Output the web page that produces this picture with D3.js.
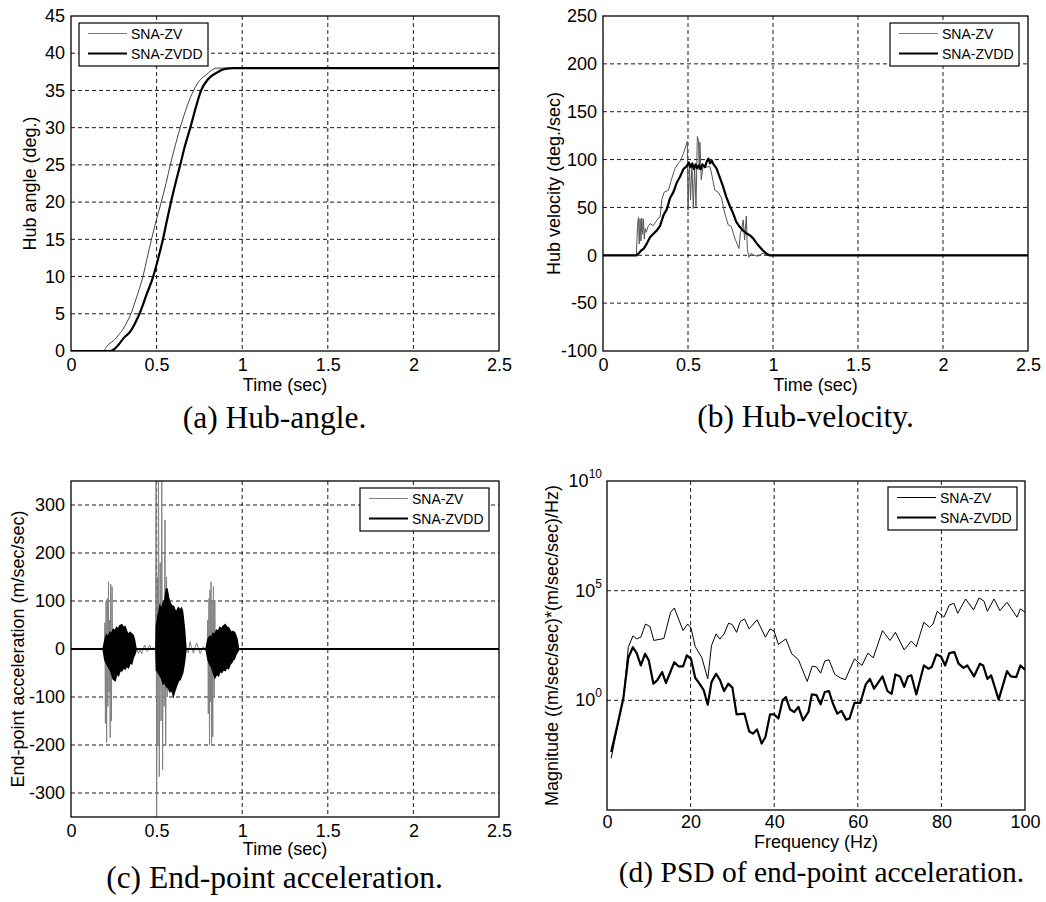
<!DOCTYPE html>
<html lang="en">
<head>
    <meta charset="UTF-8">
    <title>SNA-ZV / SNA-ZVDD responses</title>
    <script src="https://cdn.jsdelivr.net/npm/d3@7"></script>
    <style>
        body { margin: 0; background: #fff; }
        svg { display: block; }
    </style>
</head>
<body>
<script>
    // ---------------- data ----------------
    let seriesNames = ['SNA-ZV', 'SNA-ZVDD'];

    // (a) hub angle, [time s, deg]
    let hubAngleZV = [[0, 0], [0.19, 0], [0.205, 0.5], [0.22, 0.9], [0.25, 1.4], [0.28, 2.2], [0.30, 2.8],
        [0.33, 4], [0.35, 5], [0.38, 7], [0.42, 10], [0.445, 12.5], [0.47, 15], [0.50, 17.7], [0.527, 20],
        [0.555, 22.5], [0.58, 25], [0.61, 27.7], [0.638, 30], [0.68, 33], [0.716, 35], [0.75, 36.3],
        [0.784, 37], [0.82, 37.7], [0.85, 38], [2.5, 38]];
    let hubAngleZVDD = [[0, 0], [0.23, 0], [0.25, 0.2], [0.28, 0.9], [0.31, 1.8], [0.346, 2.6], [0.38, 4],
        [0.40, 5], [0.44, 7.5], [0.48, 10], [0.51, 12.5], [0.537, 15], [0.56, 17.5], [0.584, 20], [0.61, 22.5],
        [0.638, 25], [0.665, 27.5], [0.697, 30], [0.73, 32.8], [0.76, 35], [0.80, 36.5], [0.852, 37.4],
        [0.90, 37.9], [0.95, 38], [2.5, 38]];

    // (b) hub velocity, [time s, deg/s]
    let hubVelZV = [[0, 0], [0.196, 0], [0.200, 18], [0.205, 35], [0.209, 40], [0.213, 12], [0.218, 38],
        [0.223, 15], [0.228, 39], [0.233, 22], [0.238, 38], [0.243, 17], [0.248, 28], [0.254, 24], [0.265, 30],
        [0.278, 33], [0.295, 31], [0.307, 34], [0.326, 39], [0.336, 40], [0.346, 58], [0.360, 66], [0.385, 68],
        [0.404, 80], [0.424, 91], [0.443, 96], [0.457, 99], [0.476, 108], [0.496, 119], [0.500, 47], [0.508, 96],
        [0.515, 58], [0.523, 96], [0.531, 49], [0.539, 93], [0.547, 51], [0.555, 124], [0.562, 120], [0.566, 89],
        [0.570, 118], [0.578, 79], [0.59, 95], [0.61, 92], [0.628, 93], [0.638, 86], [0.658, 68], [0.677, 66],
        [0.697, 60], [0.716, 44], [0.736, 32], [0.755, 30], [0.775, 18], [0.800, 7], [0.808, 23], [0.815, 27],
        [0.825, 37], [0.833, 16], [0.843, 41], [0.849, 7], [0.858, -2], [0.87, 2], [0.89, 0], [0.91, -1],
        [0.94, 2], [0.98, 0], [2.5, 0]];
    let hubVelZVDD = [[0, 0], [0.196, 0], [0.21, 2], [0.225, 5], [0.24, 7], [0.26, 13], [0.278, 19], [0.30, 23],
        [0.317, 26], [0.336, 31], [0.356, 42], [0.375, 48], [0.395, 60], [0.414, 66], [0.434, 76], [0.453, 82],
        [0.473, 90], [0.492, 93], [0.505, 97], [0.515, 92], [0.525, 96], [0.535, 90], [0.545, 95], [0.555, 91],
        [0.565, 94], [0.575, 90], [0.585, 95], [0.60, 92], [0.61, 98], [0.62, 101], [0.63, 96], [0.64, 99],
        [0.65, 95], [0.667, 91], [0.686, 82], [0.706, 72], [0.725, 61], [0.745, 52], [0.765, 44], [0.784, 35],
        [0.803, 30], [0.823, 26], [0.843, 23], [0.863, 21], [0.882, 18], [0.902, 13], [0.921, 9], [0.941, 5],
        [0.96, 2], [0.979, 0], [2.5, 0]];

    // (c) end-point acceleration, SNA-ZV peaks [time s, m/s^2]
    let accZV = [[0, 0], [0.195, 0], [0.198, 55], [0.201, -155], [0.205, 100], [0.208, -195], [0.212, 105],
        [0.215, -120], [0.219, 140], [0.222, -90], [0.225, 60], [0.229, -185], [0.232, 135], [0.236, -150],
        [0.240, 130], [0.243, -60], [0.247, 40], [0.251, -30], [0.256, 15], [0.26, 0],
        [0.385, 0], [0.393, -9], [0.403, -2], [0.413, -10], [0.423, 2], [0.432, 8], [0.44, -3], [0.448, -5],
        [0.455, 6], [0.461, 8], [0.47, -2], [0.481, 3], [0.49, -2],
        [0.494, 0], [0.497, 380], [0.500, -380], [0.505, 150], [0.508, -200], [0.511, 380], [0.516, -266],
        [0.521, 180], [0.526, -150], [0.530, 380], [0.535, -252], [0.539, 100], [0.544, -120], [0.549, 269],
        [0.553, -200], [0.558, 150], [0.562, -100], [0.566, 80], [0.570, -50], [0.575, 30], [0.58, 0],
        [0.675, 0], [0.685, -8], [0.695, 15], [0.705, 3], [0.715, -9], [0.725, 4], [0.734, 12], [0.744, 2],
        [0.754, -9], [0.763, -2], [0.773, 5], [0.782, 0],
        [0.795, 0], [0.799, 60], [0.802, -135], [0.806, 105], [0.809, -200], [0.812, 123], [0.815, -110],
        [0.818, 140], [0.821, -197], [0.824, 100], [0.828, -183], [0.832, 130], [0.836, -100], [0.840, 102],
        [0.844, -60], [0.848, 40], [0.852, -20], [0.856, 0], [2.5, 0]];
    // SNA-ZVDD oscillation envelope [time s, upper, lower]
    let accZVDD = [[0, 0, 0], [0.189, 0, 0], [0.199, 18, -23], [0.208, 28, -30], [0.218, 24, -36],
        [0.228, 34, -42], [0.237, 31, -50], [0.247, 40, -62], [0.257, 37, -65], [0.267, 44, -50], [0.277, 41, -54],
        [0.286, 48, -44], [0.296, 50, -45], [0.306, 44, -38], [0.315, 46, -41], [0.325, 36, -35], [0.335, 29, -38],
        [0.345, 34, -28], [0.354, 31, -30], [0.362, 28, -18], [0.370, 18, -12], [0.378, 1, -3], [0.379, 0, 0],
        [0.497, 0, 0], [0.500, 46, -44], [0.51, 70, -48], [0.520, 88, -55], [0.529, 80, -60], [0.539, 95, -72],
        [0.549, 102, -70], [0.559, 126, -78], [0.568, 108, -80], [0.578, 95, -88], [0.588, 90, -84],
        [0.598, 88, -96], [0.607, 80, -85], [0.617, 77, -75], [0.627, 85, -66], [0.637, 80, -63], [0.645, 84, -55],
        [0.650, 78, -51], [0.656, 60, -40], [0.662, 39, -26], [0.670, 1, -2], [0.672, 0, 0],
        [0.790, 0, 0], [0.802, 21, -23], [0.812, 26, -32], [0.822, 24, -37], [0.831, 32, -48], [0.841, 30, -58],
        [0.851, 38, -52], [0.861, 36, -55], [0.870, 44, -45], [0.880, 41, -48], [0.890, 47, -42], [0.900, 50, -44],
        [0.909, 45, -38], [0.919, 44, -40], [0.929, 38, -31], [0.938, 33, -28], [0.946, 36, -22], [0.954, 34, -20],
        [0.961, 28, -12], [0.968, 21, -8], [0.977, 1, -2], [0.979, 0, 0], [2.5, 0, 0]];

    // (d) PSD, [frequency Hz, log10 magnitude]
    let psdZV = [[1.0, -2.65], [2.4, -1.3], [3.9, 0.05], [5.1, 2.42], [6.2, 2.94], [7.1, 2.8], [8.1, 2.88],
        [9.2, 3.48], [10.3, 3.36], [11.2, 2.73], [13.6, 2.82], [15.2, 4.0], [16.1, 4.21], [18.2, 3.18],
        [19.3, 3.48], [20.1, 3.3], [21.1, 2.45], [22.7, 1.94], [24.1, 0.98], [25.0, 2.5], [26.1, 3.03],
        [27.0, 2.79], [28.0, 3.03], [29.1, 3.52], [30.0, 3.45], [31.0, 3.1], [31.9, 3.6], [32.9, 3.71],
        [34.0, 3.26], [35.9, 3.67], [37.9, 2.88], [39.0, 3.26], [40.0, 3.15], [41.0, 2.55], [42.8, 2.8],
        [44.2, 2.12], [45.8, 1.85], [47.9, 0.86], [49.1, 1.56], [50.1, 1.52], [51.1, 1.24], [52.1, 1.79],
        [53.1, 1.85], [54.5, 1.18], [55.8, 1.03], [57.0, 0.94], [59.2, 1.89], [61.0, 1.59], [62.4, 2.15],
        [63.7, 1.94], [65.9, 3.18], [67.7, 2.73], [69.0, 3.1], [71.1, 2.3], [72.8, 2.7], [74.0, 2.45],
        [75.8, 3.56], [77.2, 3.33], [78.0, 3.48], [79.0, 4.06], [80.6, 3.79], [81.9, 4.35], [83.0, 4.42],
        [83.9, 3.97], [85.8, 4.62], [87.7, 4.12], [89.0, 4.67], [90.2, 4.52], [91.0, 4.06], [92.6, 4.62],
        [94.0, 4.09], [95.7, 4.47], [98.1, 3.79], [98.9, 4.17], [100, 4.02]];
    let psdZVDD = [[1.0, -2.35], [2.4, -1.21], [3.9, 0.08], [5.1, 1.94], [6.2, 2.42], [7.1, 2.15], [8.1, 1.59],
        [9.1, 2.12], [10.0, 1.82], [11.1, 0.76], [12.0, 0.91], [13.2, 1.29], [14.1, 0.79], [16.1, 1.74],
        [17.1, 1.55], [18.2, 1.55], [19.1, 2.05], [20.1, 1.89], [21.1, 1.03], [22.0, 0.8], [23.1, 0.48],
        [24.1, -0.2], [25.0, 0.83], [26.1, 1.21], [27.0, 0.94], [28.0, 0.42], [29.0, 0.76], [30.0, 0.58],
        [31.0, -0.64], [32.9, -0.61], [34.0, -1.41], [34.9, -1.52], [35.9, -1.33], [37.0, -1.97], [37.9, -1.67],
        [39.0, -0.64], [40.0, -0.64], [41.0, -0.83], [42.0, 0.0], [42.8, 0.15], [43.8, -0.42], [44.8, -0.53],
        [45.8, -0.3], [46.9, -0.91], [48.2, -0.53], [49.0, 0.27], [50.1, 0.24], [51.1, -0.18], [52.1, 0.38],
        [53.1, 0.42], [54.0, -0.12], [55.1, -0.61], [56.1, -0.48], [57.2, -0.88], [58.0, -0.83], [59.2, -0.12],
        [60.6, -0.12], [61.9, 0.73], [62.9, 0.98], [63.9, 0.53], [65.9, 1.09], [67.1, 0.42], [68.1, 0.3],
        [69.0, 1.18], [70.1, 1.09], [71.1, 0.61], [72.0, 1.09], [72.8, 1.14], [74.0, 0.27], [75.8, 1.59],
        [76.9, 1.44], [77.7, 1.52], [78.8, 2.09], [79.9, 2.0], [80.9, 1.59], [81.9, 2.15], [83.1, 2.2],
        [84.1, 1.67], [85.3, 1.48], [86.2, 1.59], [87.8, 1.09], [89.2, 1.67], [90.0, 1.59], [91.0, 0.98],
        [91.9, 1.14], [93.7, 0.03], [95.7, 1.33], [96.6, 1.09], [97.9, 1.06], [98.9, 1.59], [100, 1.4]];

    // ticks
    let timeTicks = [0, 0.5, 1, 1.5, 2, 2.5];
    let timeTickLabels = ['0', '0.5', '1', '1.5', '2', '2.5'];
    let angleTicks = [0, 5, 10, 15, 20, 25, 30, 35, 40, 45];
    let velTicks = [-100, -50, 0, 50, 100, 150, 200, 250];
    let accTicks = [-300, -200, -100, 0, 100, 200, 300];
    let freqTicks = [0, 20, 40, 60, 80, 100];
    let psdExpTicks = [10, 5, 0];

    // ---------------- drawing ----------------
    let axisFont = '"Liberation Sans", Arial, Helvetica, sans-serif';
    let captionFont = '"Liberation Serif", "Times New Roman", serif';

    let svg = d3.select('body').append('svg')
                .attr('width', 1046)
                .attr('height', 902);

    // grid, tick labels, axis titles, caption; returns a clipped group for the data
    function frame(p) {
        let g = svg.append('g');
        let x = p.x, y = p.y;

        g.selectAll('.vg').data(p.xGrid).enter().append('line')
         .attr('x1', d => x(d)).attr('x2', d => x(d))
         .attr('y1', p.top).attr('y2', p.bottom)
         .attr('stroke', '#000').attr('stroke-width', 0.9).attr('stroke-dasharray', '4,3');
        g.selectAll('.hg').data(p.yGrid).enter().append('line')
         .attr('x1', p.left).attr('x2', p.right)
         .attr('y1', d => y(d)).attr('y2', d => y(d))
         .attr('stroke', '#000').attr('stroke-width', 0.9).attr('stroke-dasharray', '4,3');

        let xa = g.append('g')
                  .attr('transform', `translate(0,${p.bottom})`)
                  .call(d3.axisBottom(x).tickValues(p.xTicks)
                          .tickFormat((d, i) => p.xTickLabels[i]).tickSize(0).tickPadding(p.tickPad || 7));
        xa.select('.domain').remove();
        xa.selectAll('text').attr('font-family', axisFont).attr('font-size', 18).attr('fill', '#000');

        if (p.yTicks) {
            let ya = g.append('g')
                      .attr('transform', `translate(${p.left},0)`)
                      .call(d3.axisLeft(y).tickValues(p.yTicks).tickFormat(d => d).tickSize(0).tickPadding(6));
            ya.select('.domain').remove();
            ya.selectAll('text').attr('font-family', axisFont).attr('font-size', 18).attr('fill', '#000');
        }

        g.append('text')
         .attr('x', (p.left + p.right) / 2).attr('y', p.xLabelY)
         .attr('text-anchor', 'middle')
         .attr('font-family', axisFont).attr('font-size', 18)
         .text(p.xLabel);
        g.append('text')
         .attr('transform', `translate(${p.yLabelX},${(p.top + p.bottom) / 2}) rotate(-90)`)
         .attr('text-anchor', 'middle')
         .attr('font-family', axisFont).attr('font-size', 18)
         .text(p.yLabel);

        g.append('text')
         .attr('x', p.capX).attr('y', p.capY)
         .attr('text-anchor', 'middle')
         .attr('font-family', captionFont).attr('font-size', p.capSize)
         .text(p.caption);

        svg.append('clipPath').attr('id', p.id).append('rect')
           .attr('x', p.left).attr('y', p.top)
           .attr('width', p.right - p.left).attr('height', p.bottom - p.top);
        let plot = svg.append('g').attr('clip-path', `url(#${p.id})`);
        return plot;
    }

    // plot box and legend go on top of the data
    function finish(p, styles) {
        svg.append('rect')
           .attr('x', p.left).attr('y', p.top)
           .attr('width', p.right - p.left).attr('height', p.bottom - p.top)
           .attr('fill', 'none').attr('stroke', '#000').attr('stroke-width', 1.3);

        let lg = svg.append('g').attr('transform', `translate(${p.legX},${p.legY})`);
        lg.append('rect').attr('width', 129).attr('height', 43)
          .attr('fill', '#fff').attr('stroke', '#000').attr('stroke-width', 1.2);
        seriesNames.forEach((name, i) => {
            let ly = 10.5 + i * 20;
            lg.append('line').attr('x1', 9).attr('x2', 48).attr('y1', ly).attr('y2', ly)
              .attr('stroke', styles[i].color).attr('stroke-width', styles[i].width);
            lg.append('text').attr('x', 52).attr('y', ly + 5)
              .attr('font-family', axisFont).attr('font-size', 14)
              .text(name);
        });
    }

    function drawLine(plot, data, x, y, style, curve) {
        let line = d3.line().x(d => x(d[0])).y(d => y(d[1]));
        if (curve) line.curve(curve);
        plot.append('path')
            .attr('d', line(data))
            .attr('fill', 'none')
            .attr('stroke', style.color)
            .attr('stroke-width', style.width)
            .attr('stroke-linejoin', 'round');
    }

    let thick = { color: '#000', width: 2.2 };

    // ----- (a) hub angle -----
    let pa = {
        id: 'clipA', left: 71, right: 499, top: 16, bottom: 351,
        x: d3.scaleLinear().domain([0, 2.5]).range([71, 499]),
        y: d3.scaleLinear().domain([0, 45]).range([351, 16]),
        xGrid: [0.5, 1, 1.5, 2], yGrid: [5, 10, 15, 20, 25, 30, 35, 40],
        xTicks: timeTicks, xTickLabels: timeTickLabels, yTicks: angleTicks,
        xLabel: 'Time (sec)', xLabelY: 391, yLabel: 'Hub angle (deg.)', yLabelX: 35.5,
        caption: '(a) Hub-angle.', capX: 274.5, capY: 428, capSize: 31.5,
        legX: 79, legY: 23
    };
    let plotA = frame(pa);
    let thinA = { color: '#444', width: 1 };
    drawLine(plotA, hubAngleZV, pa.x, pa.y, thinA, d3.curveMonotoneX);
    drawLine(plotA, hubAngleZVDD, pa.x, pa.y, thick, d3.curveMonotoneX);
    finish(pa, [{ color: '#777', width: 1 }, thick]);

    // ----- (b) hub velocity -----
    let pb = {
        id: 'clipB', left: 603, right: 1028, top: 16, bottom: 351,
        x: d3.scaleLinear().domain([0, 2.5]).range([603, 1028]),
        y: d3.scaleLinear().domain([-100, 250]).range([351, 16]),
        xGrid: [0.5, 1, 1.5, 2], yGrid: [-50, 0, 50, 100, 150, 200],
        xTicks: timeTicks, xTickLabels: timeTickLabels, yTicks: velTicks,
        xLabel: 'Time (sec)', xLabelY: 391, yLabel: 'Hub velocity (deg./sec)', yLabelX: 560,
        caption: '(b) Hub-velocity.', capX: 805.5, capY: 427, capSize: 31.5,
        legX: 890, legY: 23
    };
    let plotB = frame(pb);
    let thinB = { color: '#555', width: 1 };
    drawLine(plotB, hubVelZV, pb.x, pb.y, thinB);
    drawLine(plotB, hubVelZVDD, pb.x, pb.y, thick);
    finish(pb, [{ color: '#777', width: 1 }, thick]);

    // ----- (c) end-point acceleration -----
    let pc = {
        id: 'clipC', left: 71, right: 499, top: 481, bottom: 817,
        x: d3.scaleLinear().domain([0, 2.5]).range([71, 499]),
        y: d3.scaleLinear().domain([-350, 350]).range([817, 481]),
        xGrid: [0.5, 1, 1.5, 2], yGrid: [-300, -200, -100, 0, 100, 200, 300],
        xTicks: timeTicks, xTickLabels: timeTickLabels, yTicks: accTicks,
        xLabel: 'Time (sec)', xLabelY: 855, yLabel: 'End-point acceleration (m/sec/sec)', yLabelX: 23.5,
        caption: '(c) End-point acceleration.', capX: 274.5, capY: 888, capSize: 31.5,
        legX: 360, legY: 488
    };
    let plotC = frame(pc);
    let thinC = { color: '#808080', width: 1 };
    drawLine(plotC, accZV, pc.x, pc.y, thinC);
    let accArea = d3.area()
                    .x(d => pc.x(d[0]))
                    .y0(d => pc.y(d[2]))
                    .y1(d => pc.y(d[1]));
    plotC.append('path')
         .attr('d', accArea(accZVDD))
         .attr('fill', '#000')
         .attr('stroke', '#000')
         .attr('stroke-width', 2)
         .attr('stroke-linejoin', 'miter');
    finish(pc, [thinC, thick]);

    // ----- (d) PSD -----
    let pd = {
        id: 'clipD', left: 607, right: 1025, top: 481, bottom: 810,
        x: d3.scaleLinear().domain([0, 100]).range([607, 1025]),
        y: d3.scaleLog().domain([1e-5, 1e10]).range([810, 481]),
        xGrid: [20, 40, 60, 80], yGrid: [1e0, 1e5],
        xTicks: freqTicks, xTickLabels: freqTicks.map(String), yTicks: null, tickPad: 5,
        xLabel: 'Frequency (Hz)', xLabelY: 848,
        yLabel: 'Magnitude ((m/sec/sec)*(m/sec/sec)/Hz)', yLabelX: 557.5,
        caption: '(d) PSD of end-point acceleration.', capX: 821.5, capY: 882, capSize: 29.5,
        legX: 888, legY: 487
    };
    let plotD = frame(pd);
    // log tick labels 10^n
    psdExpTicks.forEach(e => {
        let t = svg.append('text')
                   .attr('x', pd.left - 5).attr('y', pd.y(Math.pow(10, e)) + 6)
                   .attr('text-anchor', 'end')
                   .attr('font-family', axisFont).attr('font-size', 18);
        t.append('tspan').text('10');
        t.append('tspan').attr('dy', -9).attr('font-size', 12).text(String(e));
    });
    let toMag = arr => arr.map(d => [d[0], Math.pow(10, d[1])]);
    let thinD = { color: '#000', width: 1 };
    drawLine(plotD, toMag(psdZV), pd.x, pd.y, thinD);
    drawLine(plotD, toMag(psdZVDD), pd.x, pd.y, thick);
    finish(pd, [thinD, thick]);
</script>
</body>
</html>
